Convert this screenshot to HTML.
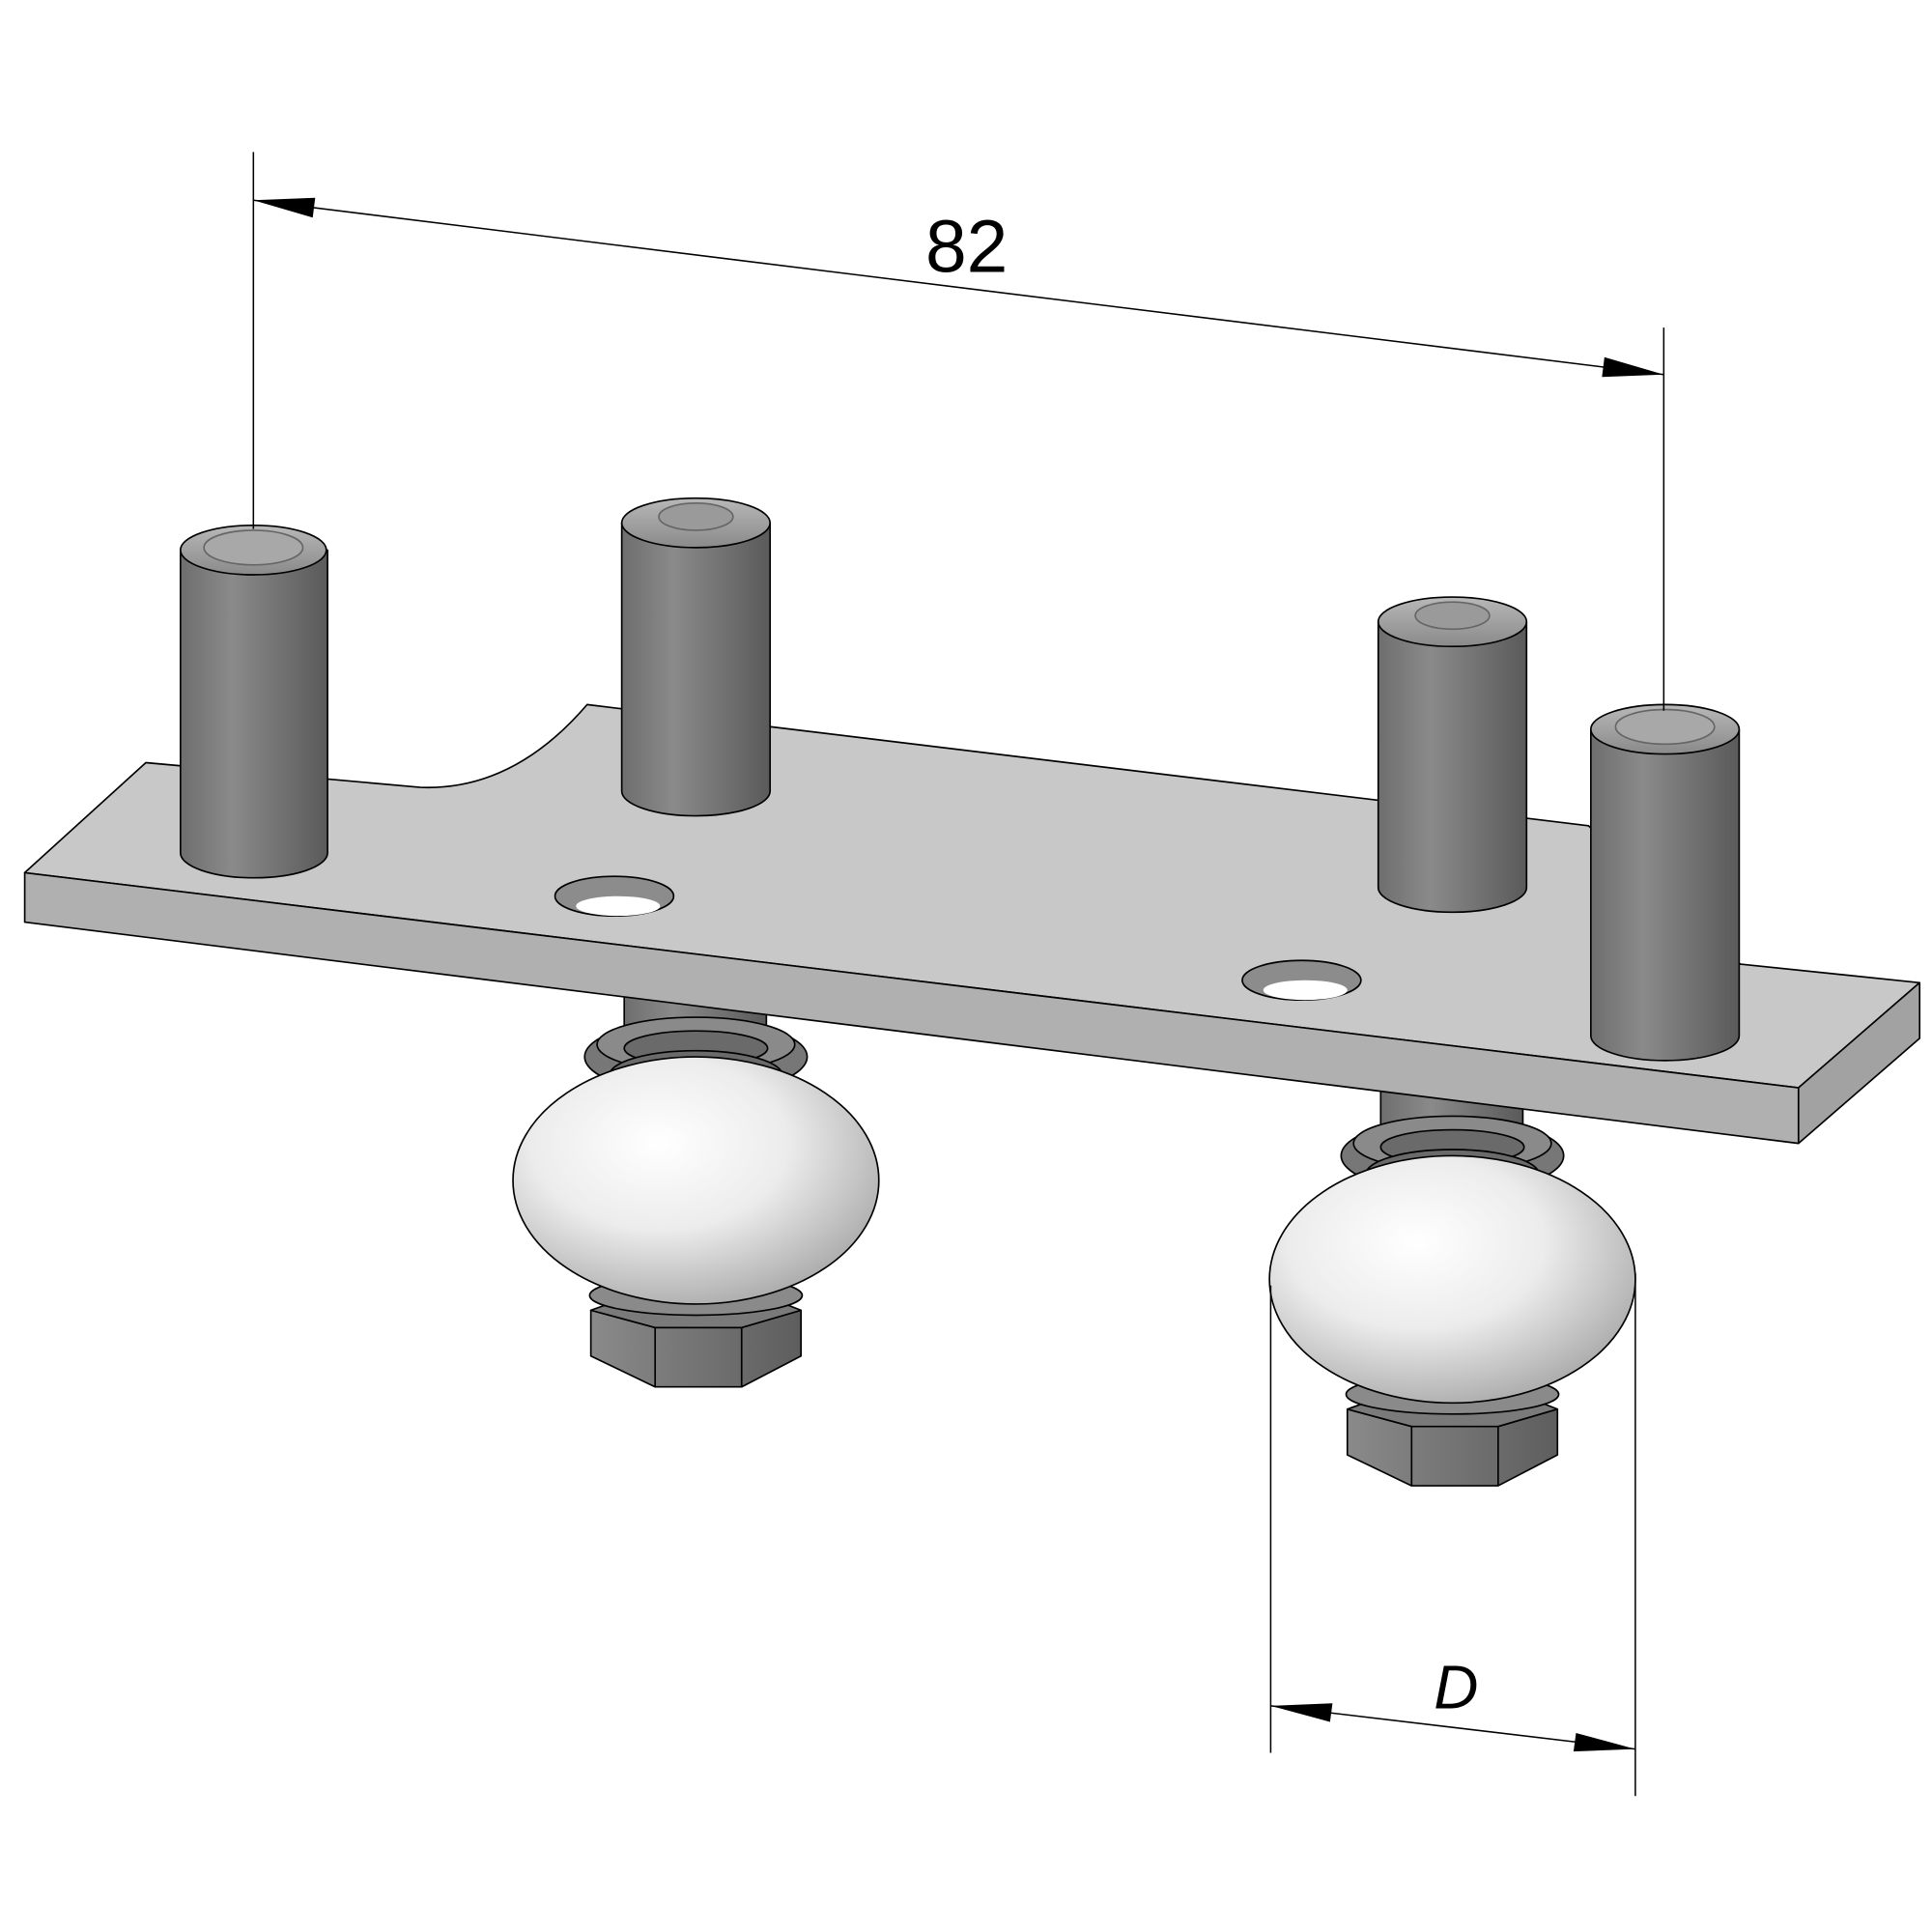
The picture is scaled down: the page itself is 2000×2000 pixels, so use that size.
<!DOCTYPE html>
<html><head><meta charset="utf-8"><style>html,body{margin:0;padding:0;background:#fff}svg{display:block}</style></head>
<body>
<svg width="2000" height="2000" viewBox="0 0 1563 1563" xmlns="http://www.w3.org/2000/svg">
<defs>
<linearGradient id="pin" x1="0" x2="1" y1="0" y2="0">
<stop offset="0" stop-color="#6e6e6e"/><stop offset="0.35" stop-color="#8a8a8a"/><stop offset="1" stop-color="#5a5a5a"/></linearGradient>
<linearGradient id="pintop" x1="0" x2="0" y1="0" y2="1">
<stop offset="0" stop-color="#b8b8b8"/><stop offset="1" stop-color="#8a8a8a"/></linearGradient>
<radialGradient id="ball" cx="0.4" cy="0.35" r="0.7">
<stop offset="0" stop-color="#ffffff"/><stop offset="0.5" stop-color="#ececec"/><stop offset="1" stop-color="#a9a9a9"/></radialGradient>
<linearGradient id="nut" x1="0" x2="1"><stop offset="0" stop-color="#8a8a8a"/><stop offset="1" stop-color="#5e5e5e"/></linearGradient>
<g id="roller">
<rect x="505" y="800" width="115" height="45" fill="url(#pin)"/>
<ellipse cx="563" cy="855" rx="90" ry="30" fill="#777"/>
<ellipse cx="563" cy="845" rx="80" ry="22" fill="#8a8a8a"/>
<ellipse cx="563" cy="848" rx="58" ry="14" fill="#6a6a6a"/>
<ellipse cx="563" cy="870" rx="70" ry="20" fill="#6a6a6a"/>
<path d="M478 1060 L478 1097 L530 1122 L600 1122 L648 1097 L648 1060 L600 1074 L530 1074 Z" fill="url(#nut)"/>
<path d="M530 1074 L530 1122 M600 1074 L600 1122" fill="none"/>
<path d="M478 1060 L530 1074 L600 1074 L648 1060 L610 1045 L520 1045 Z" fill="#7a7a7a"/>
<ellipse cx="563" cy="1048" rx="86" ry="16" fill="#8a8a8a"/>
<ellipse cx="563" cy="955" rx="148" ry="100" fill="url(#ball)"/>
</g>
</defs>
<g stroke="#000" stroke-width="1.3" stroke-linejoin="round">
<use href="#roller"/>
<use href="#roller" transform="translate(612,80)"/>
<!-- plate -->
<path d="M20 706 L118 617 L340 637 Q415 640 475 570 L1285 668 L1408 780 L1553 795 L1455 880 Z" fill="#c8c8c8"/>
<path d="M20 706 L1455 880 L1455 925 L20 746 Z" fill="#b0b0b0"/>
<path d="M1455 880 L1553 795 L1553 840 L1455 925 Z" fill="#a2a2a2"/>
<ellipse cx="497" cy="725" rx="48" ry="16" fill="#8c8c8c"/>
<ellipse cx="500" cy="733" rx="34" ry="8" fill="#fff" stroke="none"/>
<ellipse cx="1053" cy="793" rx="48" ry="16" fill="#8c8c8c"/>
<ellipse cx="1056" cy="801" rx="34" ry="8" fill="#fff" stroke="none"/>
<!-- pins -->
<g>
<path d="M146 445 L146 690 A59 20 0 0 0 265 690 L265 445 Z" fill="url(#pin)"/>
<ellipse cx="205" cy="445" rx="59" ry="20" fill="url(#pintop)"/>
<ellipse cx="205" cy="443" rx="40" ry="14" fill="#a8a8a8" stroke="#666"/>
</g>
<g>
<path d="M503 423 L503 640 A60 20 0 0 0 623 640 L623 423 Z" fill="url(#pin)"/>
<ellipse cx="563" cy="423" rx="60" ry="20" fill="url(#pintop)"/>
<ellipse cx="563" cy="418" rx="30" ry="11" fill="#9a9a9a" stroke="#666"/>
</g>
<g>
<path d="M1115 503 L1115 718 A60 20 0 0 0 1235 718 L1235 503 Z" fill="url(#pin)"/>
<ellipse cx="1175" cy="503" rx="60" ry="20" fill="url(#pintop)"/>
<ellipse cx="1175" cy="498" rx="30" ry="11" fill="#9a9a9a" stroke="#666"/>
</g>
<g>
<path d="M1287 590 L1287 838 A60 20 0 0 0 1407 838 L1407 590 Z" fill="url(#pin)"/>
<ellipse cx="1347" cy="590" rx="60" ry="20" fill="url(#pintop)"/>
<ellipse cx="1347" cy="588" rx="40" ry="14" fill="#a8a8a8" stroke="#666"/>
</g>
</g>
<!-- dimensions -->
<g stroke="#000" stroke-width="1.2" fill="none">
<line x1="205" y1="123" x2="205" y2="428"/>
<line x1="1346" y1="265" x2="1346" y2="575"/>
<line x1="205" y1="162" x2="1346" y2="303"/>
<line x1="1028" y1="1040" x2="1028" y2="1418"/>
<line x1="1323" y1="1030" x2="1323" y2="1453"/>
<line x1="1028" y1="1380" x2="1323" y2="1415"/>
</g>
<g fill="#000">
<polygon points="205,162 255,160 253,176"/>
<polygon points="1346,303 1296,305 1298,289"/>
<polygon points="1028,1380 1078,1378 1076,1393"/>
<polygon points="1323,1415 1273,1417 1275,1402"/>
</g>
<text x="782" y="220" font-family="Liberation Sans, sans-serif" font-size="60" text-anchor="middle">82</text>
<text x="1178" y="1382" font-family="Liberation Sans, sans-serif" font-size="50" font-style="italic" text-anchor="middle">D</text>
</svg>
</body></html>
